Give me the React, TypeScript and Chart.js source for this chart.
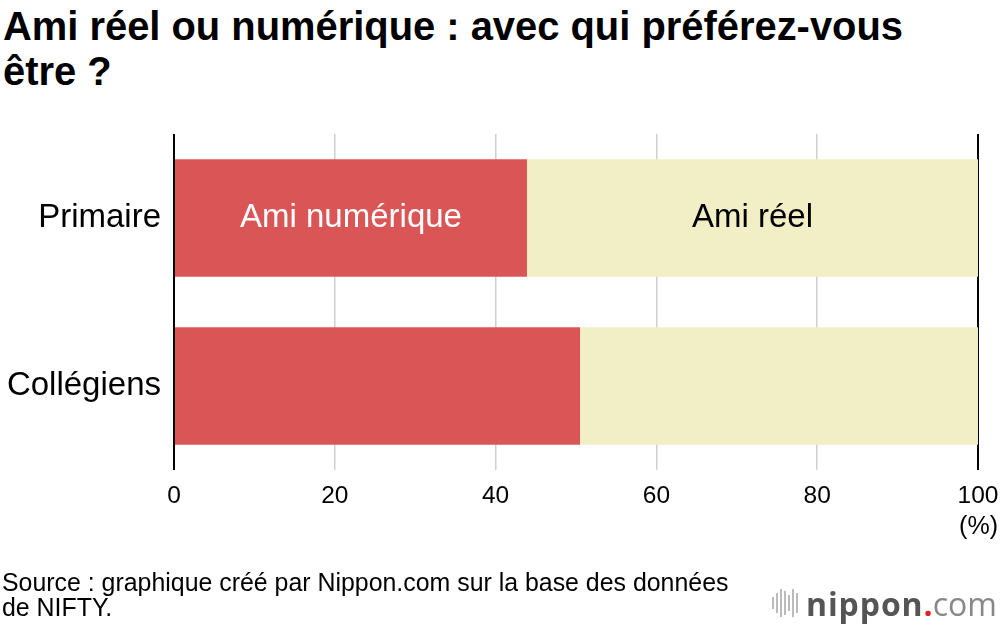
import React, { useEffect, useRef } from "react";
import { Chart, registerables } from "chart.js";

Chart.register(...registerables);

const categories = ["Primaire", "Collégiens"];
const seriesNames = ["Ami numérique", "Ami réel"];
const numeriqueValues = [43.9, 50.5];
const reelValues = [56.1, 49.5];
const xTicks = [0, 20, 40, 60, 80, 100];

const RED = "#DA5656";
const YELLOW = "#F2EEC6";
const FONT = "'Liberation Sans', Arial, Helvetica, sans-serif";

const barLabelPlugin = {
  id: "barLabels",
  afterDatasetsDraw(chart: any) {
    const ctx = chart.ctx;
    const colors = ["#ffffff", "#000000"];
    chart.data.datasets.forEach((ds: any, i: number) => {
      const meta = chart.getDatasetMeta(i);
      const el: any = meta.data[0];
      if (!el) return;
      const cx = (el.base + el.x) / 2;
      ctx.save();
      ctx.font = `33px ${FONT}`;
      ctx.fillStyle = colors[i];
      ctx.textAlign = "center";
      ctx.textBaseline = "middle";
      ctx.fillText(ds.label, cx, el.y);
      ctx.restore();
    });
  },
};

export default function App() {
  const ref = useRef<HTMLCanvasElement | null>(null);
  useEffect(() => {
    if (!ref.current) return;
    const chart = new Chart(ref.current, {
      type: "bar",
      data: {
        labels: categories,
        datasets: [
          { label: seriesNames[0], data: numeriqueValues, backgroundColor: RED, borderWidth: 0 },
          { label: seriesNames[1], data: reelValues, backgroundColor: YELLOW, borderWidth: 0 },
        ],
      },
      options: {
        indexAxis: "y",
        animation: false,
        responsive: false,
        maintainAspectRatio: false,
        datasets: { bar: { categoryPercentage: 1, barPercentage: 0.7 } },
        layout: { padding: { top: 134, right: 22, bottom: 0, left: 0 } },
        plugins: { legend: { display: false }, tooltip: { enabled: false }, title: { display: false } },
        scales: {
          x: {
            stacked: true,
            min: 0,
            max: 100,
            afterBuildTicks: (scale: any) => {
              scale.ticks = xTicks.map((v) => ({ value: v }));
            },
            afterFit: (scale: any) => {
              scale.height = 154;
              scale.paddingLeft = 0;
              scale.paddingRight = 0;
            },
            border: { display: false },
            grid: {
              drawTicks: false,
              color: (c: any) => (c.tick && (c.tick.value === 0 || c.tick.value === 100) ? "#000000" : "#d0d0d0"),
              lineWidth: (c: any) => (c.tick && (c.tick.value === 0 || c.tick.value === 100) ? 2 : 1.5),
            },
            ticks: { color: "#000", font: { family: FONT, size: 24.5 }, padding: 12, maxRotation: 0 },
          },
          y: {
            stacked: true,
            afterFit: (scale: any) => {
              scale.width = 174;
            },
            border: { display: false },
            grid: { display: false, drawTicks: false },
            ticks: { color: "#000", font: { family: FONT, size: 33 }, padding: 13 },
          },
        },
      },
      plugins: [barLabelPlugin],
    } as any);
    return () => chart.destroy();
  }, []);

  return (
    <div style={{ position: "absolute", left: 0, top: 0, width: 1000, height: 624, background: "#fff", overflow: "hidden", fontFamily: FONT }}>
      <div style={{ position: "absolute", left: 3, top: 4, fontSize: 39.9, fontWeight: 700, lineHeight: "45px", color: "#000", whiteSpace: "nowrap" }}>
        Ami réel ou numérique : avec qui préférez-vous
        <br />
        être ?
      </div>
      <canvas ref={ref} width={1000} height={624} style={{ position: "absolute", left: 0, top: 0, width: 1000, height: 624 }} />
      <div style={{ position: "absolute", right: 2, top: 511, fontSize: 25, color: "#000" }}>(%)</div>
      <div style={{ position: "absolute", left: 2, top: 570, fontSize: 24.9, lineHeight: "25px", color: "#000", whiteSpace: "nowrap" }}>
        Source : graphique créé par Nippon.com sur la base des données
        <br />
        de NIFTY.
      </div>
      <div style={{ position: "absolute", left: 772, top: 586, height: 34, display: "flex", alignItems: "center" }}>
        <div style={{ display: "flex", alignItems: "center", gap: 2, marginRight: 8 }}>
          {[12, 20, 28, 24, 16, 28, 20].map((h, i) => (
            <div key={i} style={{ width: 2, height: h, background: "#bbbbbb" }} />
          ))}
        </div>
        <span style={{ fontFamily: "'Open Sans', sans-serif", fontSize: 32, fontWeight: 700, color: "#555555", letterSpacing: 0.9 }}>nippon</span>
        <span style={{ fontFamily: "'Open Sans', sans-serif", fontSize: 32, fontWeight: 700, color: "#e02020" }}>.</span>
        <span style={{ fontFamily: "'Open Sans', sans-serif", fontSize: 32, fontWeight: 400, color: "#888888" }}>com</span>
      </div>
    </div>
  );
}
